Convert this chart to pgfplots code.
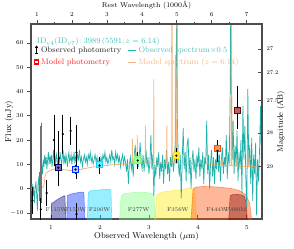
\documentclass[border=0pt]{standalone}
\usepackage{pgfplots}
\pgfplotsset{compat=1.18}
\definecolor{tealc}{RGB}{32,178,170}
\definecolor{orangec}{RGB}{244,164,96}
\definecolor{jA}{rgb}{0,0,0.5}
\definecolor{jB}{rgb}{0,0.17,1}
\definecolor{jC}{rgb}{0,0.83,1}
\definecolor{jD}{rgb}{0.49,1,0.48}
\definecolor{jE}{rgb}{1,0.9,0}
\definecolor{jF}{rgb}{1,0.3,0}
\definecolor{jG}{rgb}{0.5,0,0}
\begin{document}
\begin{tikzpicture}
\useasboundingbox (-31bp,-30bp) rectangle (263bp,219bp);
\begin{axis}[
  at={(0,0)}, anchor=south west, scale only axis,
  width=231bp, height=195bp,
  xmin=0.59, xmax=5.31, ymin=-12.5, ymax=67.8,
  xtick={1,2,3,4,5}, ytick={-10,0,10,20,30,40,50,60},
  xtick pos=left, ytick pos=left,
  tick align=outside, major tick length=4bp,
  major x tick style={yshift=4bp},
  tick label style={font=\fontsize{6}{7}\selectfont},
  xticklabel style={yshift=1bp},
  axis line style={draw=black!70, line width=1.1bp},
  every tick/.style={black!70, line width=0.8bp},
  xlabel={Observed Wavelength ($\mu$m)},
  ylabel={Flux (nJy)},
  xlabel style={font=\fontsize{8.5}{9}\selectfont, at={([yshift=-17bp]axis description cs:0.5,0)}, anchor=center},
  ylabel style={font=\fontsize{8.5}{9}\selectfont, at={([xshift=-22bp]axis description cs:0,0.5)}, anchor=center, rotate=0},
  legend style={at={(0.012,0.895)}, anchor=north west, draw=none, fill=none,
    font=\fontsize{8}{9}\selectfont, inner sep=0pt, row sep=0.5bp,
    /tikz/every even column/.append style={column sep=4bp}},
  legend columns=2, transpose legend, legend cell align=left,
]
\addlegendimage{legend image code/.code={
  \draw[black, line width=0.8pt] (0.15cm,-0.11cm)--(0.15cm,0.11cm) (0.09cm,0.11cm)--(0.21cm,0.11cm) (0.09cm,-0.11cm)--(0.21cm,-0.11cm);
  \fill[black] (0.15cm,0) circle (0.7pt);}}
\addlegendentry{\textcolor{black!85}{Observed photometry}}
\addlegendimage{legend image code/.code={
  \draw[red, line width=1.2pt] (0.08cm,-0.07cm) rectangle (0.22cm,0.07cm);}}
\addlegendentry{\textcolor{red!85}{Model photometry}}
\addlegendimage{legend image code/.code={
  \draw[tealc, line width=0.8pt] (0cm,0cm)--(0.3cm,0cm);}}
\addlegendentry{\textcolor{tealc!80}{Observed spectrum$\times$0.5}}
\addlegendimage{legend image code/.code={
  \draw[orangec!80, line width=0.8pt] (0cm,0cm)--(0.3cm,0cm);}}
\addlegendentry{\textcolor{orangec!80}{Model spectrum ($z = 6.14$)}}

% filter curves
\addplot[forget plot, fill=jA, fill opacity=0.4, draw=jA, draw opacity=0.5, line width=0.6bp] coordinates {(1.00,-13)(1.01,-6.0)(1.06,-5.5)(1.12,-4.6)(1.18,-3.9)(1.24,-3.2)(1.27,-2.9)(1.285,-3.2)(1.30,-13)} -- cycle;
\addplot[forget plot, fill=jB, fill opacity=0.4, draw=jB, draw opacity=0.5, line width=0.6bp] coordinates {(1.32,-13)(1.335,-2.8)(1.40,-2.3)(1.48,-1.9)(1.56,-1.6)(1.64,-1.4)(1.67,-1.6)(1.69,-13)} -- cycle;
\addplot[forget plot, fill=jC, fill opacity=0.4, draw=jC, draw opacity=0.5, line width=0.6bp] coordinates {(1.74,-13)(1.76,-1.6)(1.80,-0.9)(1.90,-0.7)(2.00,-0.5)(2.10,-0.3)(2.20,-0.2)(2.225,-0.6)(2.24,-13)} -- cycle;
\addplot[forget plot, fill=jD, fill opacity=0.4, draw=jD, draw opacity=0.5, line width=0.6bp] coordinates {(2.40,-13)(2.43,-3.0)(2.50,-2.0)(2.60,-1.8)(2.70,-1.6)(2.85,-1.5)(3.00,-1.7)(3.10,-2.4)(3.14,-13)} -- cycle;
\addplot[forget plot, fill=jE, fill opacity=0.4, draw=jE, draw opacity=0.5, line width=0.6bp] coordinates {(3.12,-13)(3.16,-2.6)(3.25,-1.5)(3.40,-1.0)(3.55,-0.7)(3.70,-0.3)(3.85,0.3)(3.92,0.5)(3.97,-13)} -- cycle;
\addplot[forget plot, fill=jF, fill opacity=0.4, draw=jF, draw opacity=0.5, line width=0.6bp] coordinates {(3.86,-13)(3.90,-0.5)(3.95,0.6)(4.10,0.9)(4.30,0.8)(4.50,0.5)(4.70,0.0)(4.85,-0.8)(4.98,-2.5)(5.06,-6)(5.10,-13)} -- cycle;
\addplot[forget plot, fill=jG, fill opacity=0.4, draw=jG, draw opacity=0.5, line width=0.6bp] coordinates {(4.63,-13)(4.66,-3.0)(4.70,-2.5)(4.80,-2.4)(4.90,-2.6)(4.95,-3.2)(4.99,-6)(5.01,-13)} -- cycle;

% observed spectrum x0.5
\addplot[forget plot, tealc, line width=0.7bp] coordinates {
(0.600,-1)(0.615,2)(0.630,-3)(0.645,1)(0.660,-6)(0.675,0)(0.690,3)(0.705,-2)(0.720,-9)(0.735,2)
(0.750,5)(0.765,-4)(0.780,8)(0.795,3)(0.810,10)(0.825,6)(0.840,12)(0.855,9)(0.870,14)(0.885,10)
(0.900,13)(0.915,8)(0.930,12)(0.945,15)(0.960,10)(0.975,13)(0.990,11)(1.005,14)(1.020,9)(1.035,12)
(1.050,16)(1.065,11)(1.080,13)(1.095,10)(1.110,14)(1.125,12)(1.140,9)(1.155,13)(1.170,11)(1.185,15)
(1.200,12)(1.215,10)(1.230,13)(1.245,16)(1.260,11)(1.275,13)(1.290,10)(1.305,14)(1.320,12)(1.335,9)
(1.350,13)(1.365,15)(1.380,11)(1.395,12)(1.410,14)(1.425,10)(1.440,13)(1.455,12)(1.470,15)(1.485,11)
(1.50,13)(1.52,10)(1.54,14)(1.56,12)(1.58,16)(1.60,11)(1.62,13)(1.64,9)(1.66,12)(1.68,14)
(1.70,11)(1.72,13)(1.74,10)(1.76,14)(1.78,12)(1.80,15)(1.82,11)(1.84,13)(1.86,10)(1.88,12)
(1.90,14)(1.92,11)(1.94,13)(1.96,9)(1.98,12)(2.00,10)(2.02,13)(2.04,11)(2.06,14)(2.08,12)
(2.10,15)(2.12,11)(2.14,13)(2.16,10)(2.18,12)(2.20,14)(2.22,11)(2.24,16)(2.26,12)(2.28,13)
(2.30,10)(2.32,15)(2.34,12)(2.36,14)(2.38,11)(2.40,13)(2.42,9)(2.44,12)(2.46,14)(2.48,10)
(2.50,13)(2.52,11)(2.54,7)(2.56,12)(2.58,2)(2.60,10)(2.62,13)(2.64,8)(2.66,11)(2.68,5)
(2.70,14)(2.72,18)(2.74,10)(2.76,15)(2.78,9)(2.80,13)(2.82,19)(2.84,11)(2.86,8)(2.88,14)
(2.90,7)(2.92,12)(2.94,16)(2.96,9)(2.98,13)(3.00,6)(3.02,11)(3.04,22)(3.06,8)(3.08,14)
(3.10,-3)(3.12,10)(3.14,5)(3.16,13)(3.18,9)(3.20,15)(3.22,4)(3.24,11)(3.26,7)(3.28,14)
(3.30,2)(3.32,12)(3.34,8)(3.36,16)(3.38,6)(3.40,11)(3.42,3)(3.44,13)(3.46,9)(3.48,14)
(3.50,7)(3.52,12)(3.54,20)(3.56,60)(3.57,72)(3.58,30)(3.60,10)(3.62,5)(3.64,14)(3.66,-4)
(3.68,12)(3.70,25)(3.72,8)(3.74,15)(3.76,3)(3.78,18)(3.80,21)(3.82,6)(3.84,13)(3.86,0)
(3.88,11)(3.90,16)(3.92,7)(3.94,12)(3.96,4)(3.98,14)(4.00,9)(4.02,17)(4.04,5)(4.06,12)
(4.08,8)(4.10,15)(4.12,2)(4.14,13)(4.16,10)(4.18,28)(4.20,6)(4.22,14)(4.24,0)(4.26,11)
(4.28,16)(4.30,5)(4.32,13)(4.34,2)(4.36,12)(4.38,8)(4.40,20)(4.42,7)(4.44,14)(4.46,3)
(4.48,12)(4.50,17)(4.52,6)(4.54,13)(4.56,9)(4.58,22)(4.60,4)(4.62,15)(4.64,10)(4.66,40)
(4.67,72)(4.68,45)(4.70,12)(4.72,28)(4.74,6)(4.76,18)(4.78,9)(4.80,24)(4.82,3)(4.84,15)
(4.86,8)(4.88,20)(4.90,-2)(4.92,34)(4.94,12)(4.96,26)(4.98,4)(5.00,-8)(5.02,41)(5.04,10)
(5.06,18)(5.08,2)(5.10,21)(5.12,-5)(5.14,14)(5.16,6)(5.18,19)(5.20,-11)(5.22,12)(5.24,3)
(5.26,16)(5.28,34)(5.30,8)};

% model spectrum
\addplot[forget plot, orangec, opacity=0.8, line width=0.8bp] coordinates {
(0.59,0.3)(0.70,0.2)(0.80,0.3)(0.84,0.6)(0.86,2.0)(0.875,5.0)(0.90,6.5)(0.95,7.2)(1.00,7.6)(1.05,8.0)
(1.10,8.3)(1.15,8.2)(1.20,8.0)(1.30,7.7)(1.40,7.5)(1.50,7.6)(1.60,7.9)(1.70,8.3)(1.80,8.7)(1.90,9.0)
(2.00,9.3)(2.10,9.5)(2.20,9.7)(2.30,9.9)(2.40,10.0)(2.50,10.2)(2.60,10.3)
(2.655,10.4)(2.661,20.5)(2.667,10.4)(2.755,10.5)(2.762,22)(2.769,10.5)(2.834,10.5)(2.840,14)(2.846,10.5)
(2.923,10.6)(2.929,26)(2.935,10.6)(3.093,10.6)(3.099,45)(3.105,10.6)(3.36,10.5)(3.366,26)(3.372,10.5)
(3.465,10.5)(3.471,110)(3.477,10.5)(3.535,10.5)(3.541,55)(3.547,10.5)(3.569,10.5)(3.575,110)(3.581,10.5)
(3.8,10.4)(4.0,10.3)(4.19,10.2)(4.197,12)(4.204,10.2)(4.3,9.9)(4.49,9.6)(4.497,12)(4.504,9.6)
(4.675,9.5)(4.686,110)(4.697,9.5)(4.79,9.3)(4.796,13)(4.803,9.3)(5.03,9.1)(5.04,13.5)(5.05,9.1)(5.31,9.0)};

% model photometry
\addplot[forget plot, only marks, mark=square*, mark size=3bp, line width=1.1bp, draw=jA, fill=jA!55] coordinates {(1.15,8.6)};
\addplot[forget plot, only marks, mark=square*, mark size=3bp, line width=1.1bp, draw=jB, fill=jB!25] coordinates {(1.50,7.9)};
\addplot[forget plot, only marks, mark=square*, mark size=3bp, line width=1.1bp, draw=jC, fill=jC!55] coordinates {(1.99,9.8)};
\addplot[forget plot, only marks, mark=square*, mark size=3bp, line width=1.1bp, draw=jD, fill=jD!55] coordinates {(2.77,11.8)};
\addplot[forget plot, only marks, mark=square*, mark size=3bp, line width=1.1bp, draw=jE, fill=jE!70] coordinates {(3.56,13.5)};
\addplot[forget plot, only marks, mark=square*, mark size=3bp, line width=1.1bp, draw=jF, fill=jF!60] coordinates {(4.40,16.7)};
\addplot[forget plot, only marks, mark=square*, mark size=3bp, line width=1.1bp, draw=jG, fill=jG!60] coordinates {(4.81,32.2)};

% observed photometry (grey, overlapping)
\addplot[forget plot, only marks, mark=*, mark size=0.9bp, black!55,
  error bars/.cd, y dir=both, y explicit, error bar style={line width=1.6bp, black!55},
  error mark=-, error mark options={black!55, line width=0.9bp, mark size=2.5bp}]
  coordinates {(0.795,10.5) +- (0,15.5) (0.78,0.8) +- (0,6)};
% observed photometry
\addplot[forget plot, only marks, mark=*, mark size=0.9bp, black,
  error bars/.cd, y dir=both, y explicit, error bar style={line width=0.9bp, black},
  error mark=-, error mark options={black, line width=0.9bp, mark size=2.5bp}]
  coordinates {
  (0.62,-5.0) +- (0,4.5)
  (0.79,-8.5) +- (0,3.6)
  (0.91,-1.8) +- (0,4.3)
  (1.06,20.0) +- (0,9.5)
  (1.16,12.5) +- (0,10.3)
  (1.24,22.5) +- (0,7.0)
  (1.40,23.8) +- (0,4.8)
  (1.52,15.0) +- (0,10.0)
  (1.52,-10.5) +- (0,3.5)
  (1.15,8.6) +- (0,1.2)
  (1.50,7.9) +- (0,1.0)
  (1.99,9.5) +- (0,2.4)
  (2.77,11.6) +- (0,2.3)
  (3.56,13.6) +- (0,2.2)
  (4.40,15.6) +- (0,3.4)
  (4.81,33.5) +- (0,7.8)};

% filter names
\begin{scope}[every node/.style={font=\fontsize{5.6}{6}\selectfont, text=black!75, inner sep=0pt}]
\node at (axis cs:1.11,-8.8) {F115W};
\node at (axis cs:1.50,-8.8) {F150W};
\node at (axis cs:1.99,-8.8) {F200W};
\node at (axis cs:2.79,-8.8) {F277W};
\node at (axis cs:3.59,-8.8) {F356W};
\node at (axis cs:4.39,-8.8) {F444W};
\node at (axis cs:4.78,-8.8) {F480M};
\end{scope}
\node[anchor=west, text=tealc!85, font=\fontsize{8}{9}\selectfont, inner sep=0pt] at (rel axis cs:0.025,0.908)
  {ID$_{\rm v4}$(ID$_{\rm v7}$)\,:\,3989\,(5591;\,$z = 6.14$)};
\end{axis}

\begin{axis}[
  at={(0,0)}, anchor=south west, scale only axis,
  width=231bp, height=195bp,
  xmin=0.59, xmax=5.31, ymin=-12.5, ymax=67.8,
  axis x line*=top, axis y line*=right,
  axis line style={draw=black!70, line width=1.1bp},
  every tick/.style={black!70, line width=0.8bp},
  tick align=outside, major tick length=4bp, minor tick length=2.5bp,
  major y tick style={xshift=-4bp},
  xtick={0.714,1.428,2.142,2.856,3.570,4.284,4.998},
  xticklabels={1,2,3,4,5,6,7},
  minor xtick={1.071,1.785,2.499,3.213,3.927,4.641},
  ytick={57.54,47.86,36.31,22.91,9.12},
  yticklabels={27,27.2,27.5,28,29},
  xticklabel style={font=\fontsize{6}{7}\selectfont},
  yticklabel style={font=\fontsize{5.5}{6}\selectfont, xshift=-3bp},
  xlabel={Rest Wavelength (1000\AA)},
  ylabel={Magnitude (AB)},
  xlabel style={font=\fontsize{7}{8}\selectfont, at={([yshift=19bp]axis description cs:0.5,1)}, anchor=center},
  ylabel style={font=\fontsize{8}{9}\selectfont, at={([xshift=19bp]axis description cs:1,0.5)}, anchor=center, rotate=0},
]
\addplot[draw=none] coordinates {(1,0)};
\end{axis}
\end{tikzpicture}
\end{document}
